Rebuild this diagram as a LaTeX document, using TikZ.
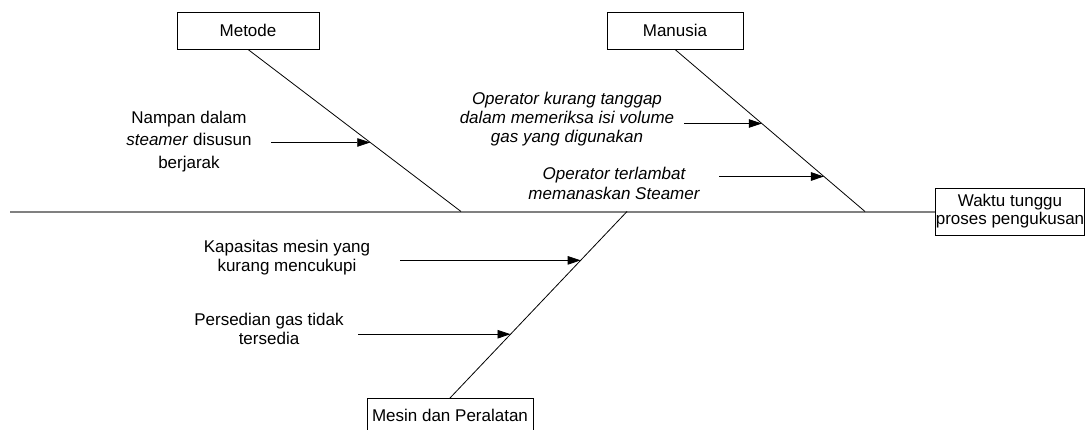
\documentclass[tikz,border=0pt]{standalone}
\usepackage{fontspec}
\setmainfont{Liberation Sans}
\usetikzlibrary{arrows.meta,calc}
\definecolor{spinegray}{RGB}{128,128,128}
\begin{document}
\begin{tikzpicture}[x=1pt,y=-1pt,
  catbox/.style={draw=black,line width=0.9pt,fill=white,inner sep=0pt,align=center,font=\fontsize{17}{19}\selectfont},
  bone/.style={draw=black,line width=0.8pt},
  spine/.style={draw=spinegray,line width=2pt},
  cause/.style={draw=black,line width=0.8pt,-{Triangle[length=13pt,width=8.5pt]}},
  lbl/.style={align=center,inner sep=0pt,font=\fontsize{17}{19}\selectfont}]
\useasboundingbox (0,0) rectangle (1085,429);
\clip (0,0) rectangle (1085,429);

% category boxes and the effect box
\node[catbox,minimum width=142pt,minimum height=37pt] (metode) at (248,30.5) {Metode};
\node[catbox,minimum width=136pt,minimum height=37pt] (manusia) at (675,30.5) {Manusia};
\node[catbox,minimum width=166pt,minimum height=34pt,anchor=north] (mesin) at (450,398) {Mesin dan Peralatan};
\node[catbox,minimum width=148pt,minimum height=47pt,font=\fontsize{17}{18}\selectfont] (waktu) at (1010,211.5) {Waktu tunggu\\proses pengukusan};

% main spine
\coordinate (tail) at (10,211.5);
\draw[spine] (tail) -- (waktu.west);

% category bones
\coordinate (jm) at (461,211.5);
\coordinate (jh) at (865,211.5);
\coordinate (je) at (627,211.5);
\draw[bone] (metode.south) -- (jm);
\draw[bone] (manusia.south) -- (jh);
\draw[bone] (mesin.north) -- (je);

% points where the causes meet their bones
\coordinate (t1) at ($(metode.south)!0.574!(jm)$);
\coordinate (t2) at ($(manusia.south)!0.457!(jh)$);
\coordinate (t3) at ($(manusia.south)!0.784!(jh)$);
\coordinate (t4) at ($(je)!0.262!(mesin.north)$);
\coordinate (t5) at ($(je)!0.658!(mesin.north)$);

% cause arrows
\coordinate (s1) at (271,0);
\coordinate (s2) at (684,0);
\coordinate (s3) at (719,0);
\coordinate (s4) at (400,0);
\coordinate (s5) at (358,0);
\draw[cause] (s1 |- t1) -- (t1);
\draw[cause] (s2 |- t2) -- (t2);
\draw[cause] (s3 |- t3) -- (t3);
\draw[cause] (s4 |- t4) -- (t4);
\draw[cause] (s5 |- t5) -- (t5);

% cause labels
\node[lbl,font=\fontsize{17}{22.7}\selectfont] (c1) at (189,141.5) {Nampan dalam\\\textit{steamer} disusun\\berjarak};
\node[lbl,font=\itshape\fontsize{17}{19.2}\selectfont] (c2) at (567,119) {Operator kurang tanggap\\dalam memeriksa isi volume\\gas yang digunakan};
\node[lbl,font=\itshape\fontsize{17}{20}\selectfont] (c3) at (614,183) {Operator terlambat\\memanaskan Steamer};
\node[lbl] (c4) at (287,258) {Kapasitas mesin yang\\kurang mencukupi};
\node[lbl] (c5) at (269,328.7) {Persedian gas tidak\\tersedia};
\end{tikzpicture}
\end{document}
